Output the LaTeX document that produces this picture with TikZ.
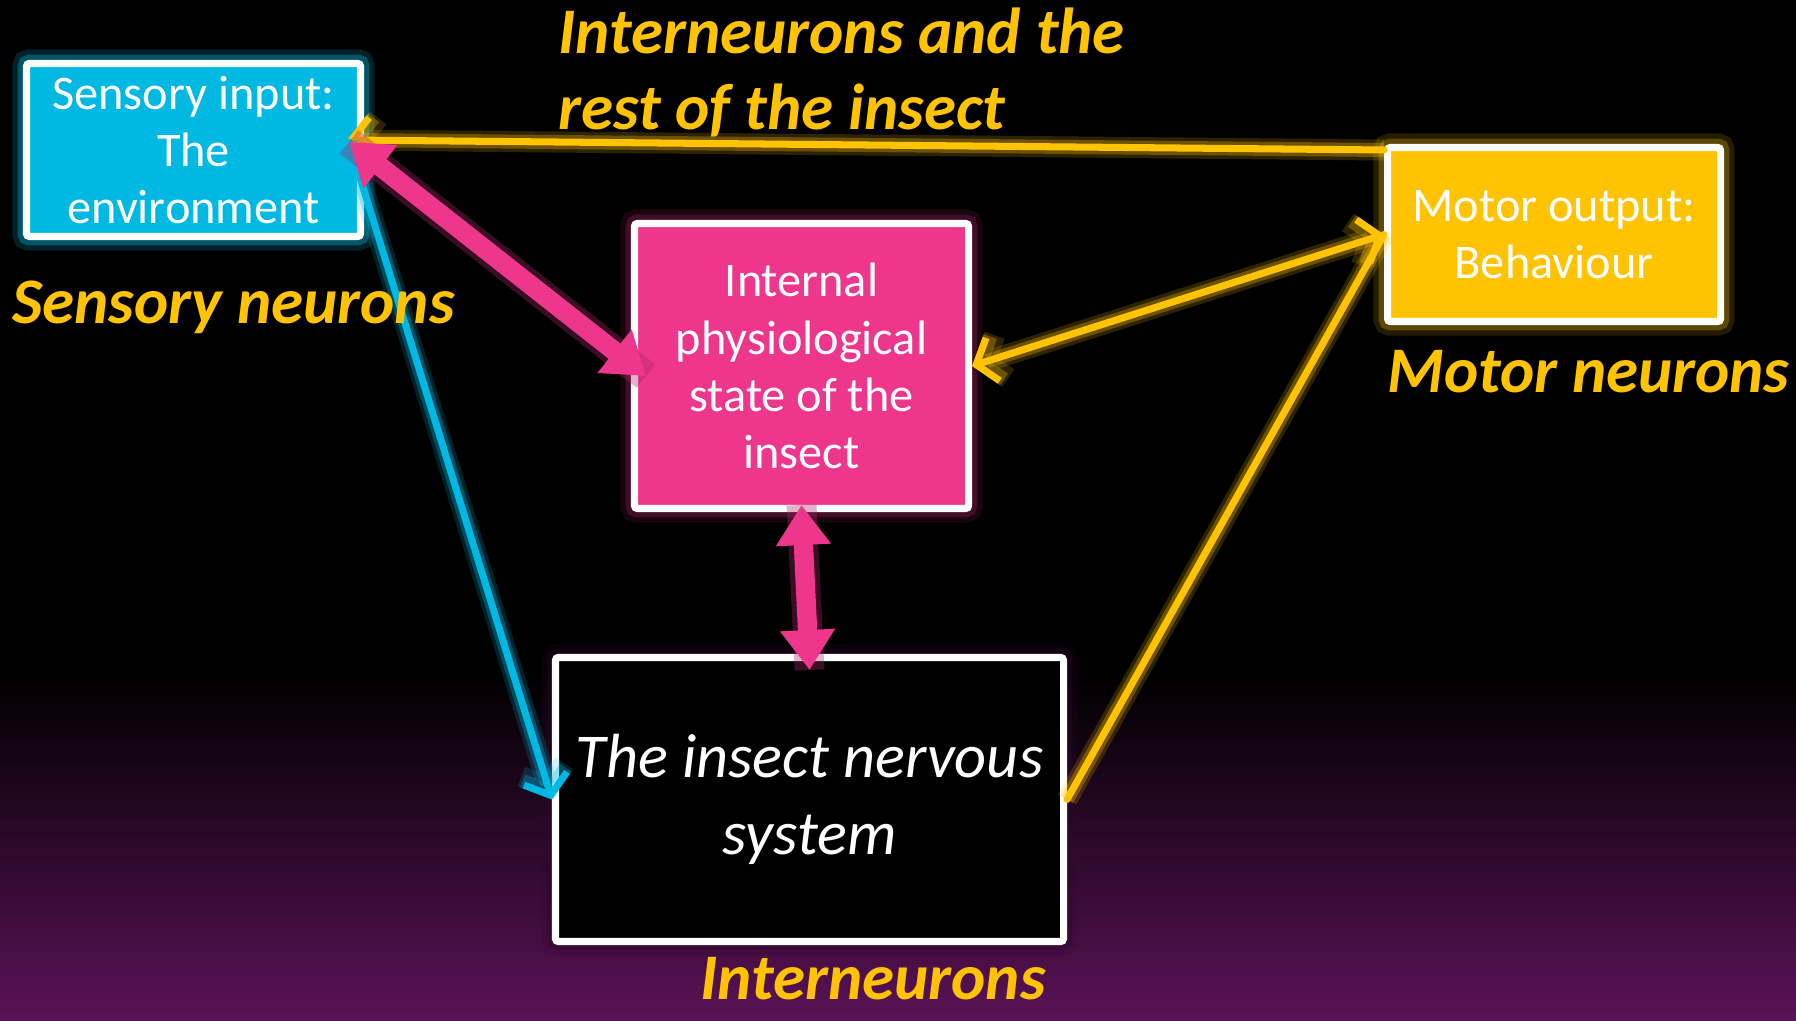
\documentclass[tikz,border=0pt]{standalone}
\usepackage{fontspec}
\setmainfont{Carlito}
\usetikzlibrary{arrows.meta,positioning,calc}
\definecolor{nsCyan}{HTML}{00B9E2}
\definecolor{nsPink}{HTML}{EE368D}
\definecolor{nsYellow}{HTML}{FFC300}
\definecolor{nsPurple}{HTML}{5A1256}

\begin{document}
\begin{tikzpicture}[
  bx/.style={draw=white, line width=4pt, rounded corners=1.5pt, text=white, align=center, inner sep=0pt, font=\fontsize{27.5}{32.5}\selectfont},
  glow/.style={preaction={draw=#1, line width=16pt, opacity=0.18}, preaction={draw=#1, line width=10pt, opacity=0.35}},
  arrY/.style={draw=nsYellow, line width=4pt, line cap=round, preaction={draw=nsYellow, line width=12pt, opacity=0.18}, preaction={draw=nsYellow, line width=8pt, opacity=0.3}},
  arrC/.style={draw=nsCyan, line width=4pt, line cap=round, preaction={draw=nsCyan, line width=12pt, opacity=0.18}, preaction={draw=nsCyan, line width=8pt, opacity=0.3}},
  arrP/.style={draw=nsPink, fill=nsPink, line width=11pt, {Triangle[length=8mm,width=10.5mm]}-{Triangle[length=8mm,width=10.5mm]}, preaction={draw=nsPink!70!black, line width=17pt, opacity=0.35, -}},
  barb/.style={-{Straight Barb[length=3.5mm,width=9mm]}},
  lbl/.style={text=nsYellow, font=\fontsize{37}{43}\selectfont\bfseries\itshape, anchor=west, align=left, inner sep=0pt}]
\useasboundingbox (0,0) rectangle (35.92,20.4);
\fill[black] (0,0) rectangle (35.92,20.4);
\shade[top color=black, bottom color=nsPurple] (0,0) rectangle (35.92,6.9);

% boxes
\node[bx, fill=nsCyan, glow=nsCyan, minimum width=6.68cm, minimum height=3.46cm] (sens) at (3.87,17.4) {Sensory input:\\The\\environment};
\node[bx, fill=nsPink, glow=nsPink!60!black, minimum width=6.68cm, minimum height=5.70cm] (phys) at (16.03,13.08) {Internal\\physiological\\state of the\\insect};
\node[bx, fill=nsYellow, glow=nsYellow!80!black, minimum width=6.66cm, minimum height=3.48cm] (motor) at (31.08,15.71) {Motor output:\\Behaviour};
\node[bx, fill=black, glow=nsPurple!50!black, minimum width=10.16cm, minimum height=5.68cm, font=\fontsize{35.5}{44}\selectfont\itshape] (nerv) at (16.19,4.41) {The insect nervous\\system};

% connectors
\draw[arrY, barb] ([yshift=-1.2mm]motor.north west) -- ([shift={(-0.34,0.2)}]sens.east);
\draw[arrC, barb] ([shift={(-0.3,0.16)}]sens.east) -- (nerv.west);
\draw[arrY, {Straight Barb[length=3.5mm,width=9mm]}-{Straight Barb[length=3.5mm,width=9mm]}] (phys.east) -- (motor.west);
\draw[arrY] (nerv.east) -- (motor.west);
\draw[arrP] ([shift={(-0.3,0.16)}]sens.east) -- ([shift={(0.3,-0.2)}]phys.west);
\draw[arrP] ([yshift=1.4mm]phys.south) -- ([yshift=-3.2mm]nerv.north);

% neuron labels
\node[lbl] (lInter) at (11.16,18.95) {Interneurons and the\\rest of the insect};
\node[lbl] (lSens) at (0.24,14.26) {Sensory neurons};
\node[lbl] (lMotor) at (27.74,12.96) {Motor neurons};
\node[lbl] (lNerv) at (14.0,0.82) {Interneurons};
\end{tikzpicture}
\end{document}
